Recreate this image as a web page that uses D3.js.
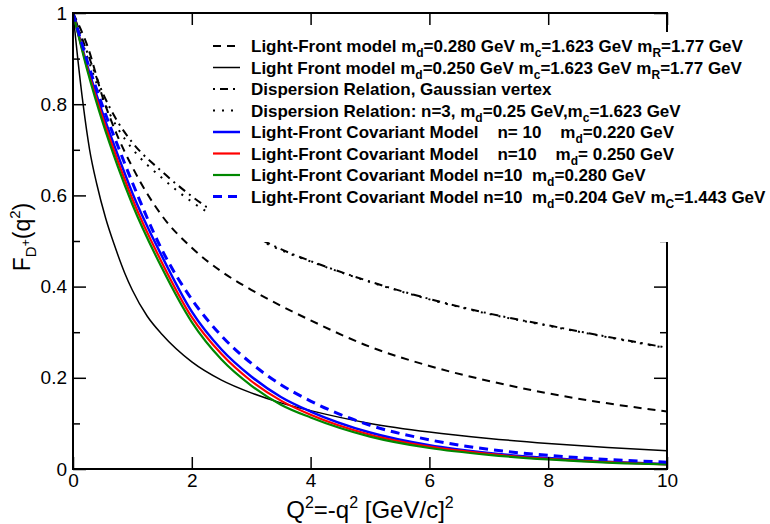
<!DOCTYPE html>
<html>
<head>
<meta charset="utf-8">
<script src="https://cdn.jsdelivr.net/npm/d3@7"></script>
<style>
  body { margin: 0; background: #fff; }
  svg { display: block; }
  text { font-family: "Liberation Sans", Arial, sans-serif; }
</style>
</head>
<body>
<div id="chart"></div>
<script>
// ---------------- data ----------------
const gridX = [0, 0.25, 0.5, 0.75, 1, 1.5, 2, 2.5, 3, 3.5, 4, 5, 6, 7, 8, 9, 10];

const lfSolidX = [0, 0.08, 0.17, 0.28, 0.4, 0.55, 0.7, 0.87, 1, 1.25, 1.5, 2, 2.5, 3, 3.5, 4, 5, 6, 7, 8, 9, 10];
const lfSolidY = [1, 0.90, 0.80, 0.70, 0.625, 0.55, 0.49, 0.43, 0.392, 0.335, 0.295, 0.235, 0.195, 0.167, 0.145, 0.128, 0.10, 0.081, 0.067, 0.056, 0.047, 0.040];

const lfDashedY  = [1, 0.925, 0.815, 0.73, 0.662, 0.555, 0.485, 0.433, 0.393, 0.358, 0.326, 0.268, 0.226, 0.193, 0.166, 0.144, 0.126];
const drGaussY   = [1, 0.91, 0.825, 0.762, 0.716, 0.652, 0.598, 0.553, 0.515, 0.482, 0.456, 0.411, 0.373, 0.341, 0.315, 0.290, 0.266];
const drN3Y      = [1, 0.90, 0.812, 0.748, 0.702, 0.638, 0.586, 0.545, 0.511, 0.480, 0.455, 0.410, 0.372, 0.340, 0.314, 0.289, 0.265];
const lfcm220Y   = [1, 0.88, 0.78, 0.69, 0.605, 0.466, 0.345, 0.262, 0.203, 0.158, 0.126, 0.080, 0.052, 0.035, 0.024, 0.016, 0.011];
const lfcm250Y   = [1, 0.875, 0.77, 0.677, 0.592, 0.452, 0.333, 0.252, 0.193, 0.150, 0.119, 0.075, 0.049, 0.033, 0.022, 0.015, 0.010];
const lfcm280Y   = [1, 0.87, 0.76, 0.665, 0.58, 0.44, 0.322, 0.24, 0.183, 0.141, 0.113, 0.071, 0.046, 0.031, 0.021, 0.014, 0.010];
const lfcm204Y   = [1, 0.89, 0.795, 0.71, 0.628, 0.48, 0.372, 0.292, 0.232, 0.185, 0.149, 0.096, 0.064, 0.043, 0.030, 0.021, 0.015];

const xTicks = [0, 2, 4, 6, 8, 10];
const yTicks = [0, 0.2, 0.4, 0.6, 0.8, 1];
const yMinorTicks = [0.1, 0.3, 0.5, 0.7, 0.9];

const legendLabels = [
  "Light-Front model m_{d}=0.280 GeV m_{c}=1.623 GeV m_{R}=1.77 GeV",
  "Light Front model m_{d}=0.250 GeV m_{c}=1.623 GeV m_{R}=1.77 GeV",
  "Dispersion Relation, Gaussian vertex",
  "Dispersion Relation: n=3, m_{d}=0.25 GeV,m_{c}=1.623 GeV",
  "Light-Front Covariant Model    n= 10    m_{d}=0.220 GeV",
  "Light-Front Covariant Model    n=10    m_{d}= 0.250 GeV",
  "Light-Front Covariant Model n=10  m_{d}=0.280 GeV",
  "Light-Front Covariant Model n=10  m_{d}=0.204 GeV m_{C}=1.443 GeV"
];

// ---------------- styles ----------------
const series = [
  { xs: gridX,    ys: lfDashedY, color: "#000", width: 2,   dash: "8,6" },
  { xs: lfSolidX, ys: lfSolidY,  color: "#000", width: 1.5, dash: null },
  { xs: gridX,    ys: drGaussY,  color: "#000", width: 2,   dash: "2,5,8,5" },
  { xs: gridX,    ys: drN3Y,     color: "#000", width: 2,   dash: "2,7" },
  { xs: gridX,    ys: lfcm220Y,  color: "#0000ff", width: 2.5, dash: null },
  { xs: gridX,    ys: lfcm250Y,  color: "#ff0000", width: 2.2, dash: null },
  { xs: gridX,    ys: lfcm280Y,  color: "#008800", width: 2.2, dash: null },
  { xs: gridX,    ys: lfcm204Y,  color: "#0000ff", width: 3,   dash: "9,6" }
];

const W = 770, H = 524;
const L = 73, R = 667, T = 13, B = 469;

const svg = d3.select("#chart").append("svg").attr("width", W).attr("height", H);

const x = d3.scaleLinear().domain([0, 10]).range([L, R]);
const y = d3.scaleLinear().domain([0, 1]).range([B, T]);

svg.append("defs").append("clipPath").attr("id", "clip")
  .append("rect").attr("x", L).attr("y", T).attr("width", R - L).attr("height", B - T);

const line = d3.line().x(d => x(d[0])).y(d => y(d[1])).curve(d3.curveMonotoneX);

const gCurves = svg.append("g").attr("clip-path", "url(#clip)");
series.forEach(s => {
  gCurves.append("path")
    .attr("d", line(s.xs.map((v, i) => [v, s.ys[i]])))
    .attr("fill", "none")
    .attr("stroke", s.color)
    .attr("stroke-width", s.width)
    .attr("stroke-dasharray", s.dash);
});

// ---------------- axes ----------------
function styleAxis(g) {
  g.select(".domain").remove();
  g.selectAll(".tick line").attr("stroke", "#000").attr("stroke-width", 1.5);
  g.selectAll(".tick text").attr("fill", "#000").style("font-size", "19px")
    .style("font-family", "'Liberation Sans', Arial, sans-serif");
}
svg.append("g").attr("transform", `translate(0,${B})`)
  .call(d3.axisBottom(x).tickValues(xTicks).tickSize(-12).tickPadding(5).tickFormat(d3.format("d")))
  .call(styleAxis);
svg.append("g").attr("transform", `translate(0,${T})`)
  .call(d3.axisTop(x).tickValues(xTicks).tickSize(-12).tickFormat(""))
  .call(styleAxis);
svg.append("g").attr("transform", `translate(${L},0)`)
  .call(d3.axisLeft(y).tickValues(yTicks).tickSize(-13).tickPadding(6).tickFormat(d => d === 0 ? "0" : d === 1 ? "1" : d3.format(".1f")(d)))
  .call(styleAxis);
svg.append("g").attr("transform", `translate(${L},0)`)
  .call(d3.axisLeft(y).tickValues(yMinorTicks).tickSize(-7).tickFormat(""))
  .call(styleAxis);
svg.append("g").attr("transform", `translate(${R},0)`)
  .call(d3.axisRight(y).tickValues(yTicks).tickSize(-13).tickFormat(""))
  .call(styleAxis);
svg.append("g").attr("transform", `translate(${R},0)`)
  .call(d3.axisRight(y).tickValues(yMinorTicks).tickSize(-7).tickFormat(""))
  .call(styleAxis);

svg.append("rect").attr("x", L).attr("y", T).attr("width", R - L).attr("height", B - T)
  .attr("fill", "none").attr("stroke", "#000").attr("stroke-width", 2);

// ---------------- legend ----------------
const lg = svg.append("g");
lg.append("rect").attr("x", 207).attr("y", 32).attr("width", W - 207).attr("height", 210).attr("fill", "#fff");

function addRich(textSel, str, size, subSize, subShift) {
  const parts = str.split(/(_\{[^}]*\})/).filter(p => p.length);
  let shifted = false;
  parts.forEach(p => {
    if (p.startsWith("_{")) {
      textSel.append("tspan").attr("dy", subShift).style("font-size", subSize + "px").text(p.slice(2, -1));
      shifted = true;
    } else {
      textSel.append("tspan").attr("dy", shifted ? -subShift : 0).style("font-size", size + "px").text(p);
      shifted = false;
    }
  });
}

const rowY0 = 46, rowDY = 21.5;
legendLabels.forEach((lab, i) => {
  const yy = rowY0 + i * rowDY;
  const s = series[i];
  lg.append("line").attr("x1", 213).attr("x2", 240).attr("y1", yy).attr("y2", yy)
    .attr("stroke", s.color).attr("stroke-width", s.width).attr("stroke-dasharray", s.dash);
  const t = lg.append("text").attr("x", 251).attr("y", yy + 6)
    .style("font-weight", "bold").style("white-space", "pre").attr("fill", "#000");
  addRich(t, lab, 17, 12, 5);
});

// ---------------- axis titles ----------------
const xt = svg.append("text").attr("x", 370).attr("y", 518).attr("text-anchor", "middle")
  .style("font-size", "24px").style("white-space", "pre").attr("fill", "#000");
xt.append("tspan").text("Q");
xt.append("tspan").attr("dy", -10).style("font-size", "16px").text("2");
xt.append("tspan").attr("dy", 10).text("=-q");
xt.append("tspan").attr("dy", -10).style("font-size", "16px").text("2");
xt.append("tspan").attr("dy", 10).text(" [GeV/c]");
xt.append("tspan").attr("dy", -10).style("font-size", "16px").text("2");

const yt = svg.append("text").attr("transform", "translate(30,237) rotate(-90)")
  .attr("text-anchor", "middle").style("font-size", "23px").attr("fill", "#000");
yt.append("tspan").text("F");
yt.append("tspan").attr("dy", 6).style("font-size", "15px").text("D");
yt.append("tspan").attr("dy", -6).style("font-size", "12px").text("+");
yt.append("tspan").attr("dy", 0).text("(q");
yt.append("tspan").attr("dy", -10).style("font-size", "15px").text("2");
yt.append("tspan").attr("dy", 10).text(")");
</script>
</body>
</html>
